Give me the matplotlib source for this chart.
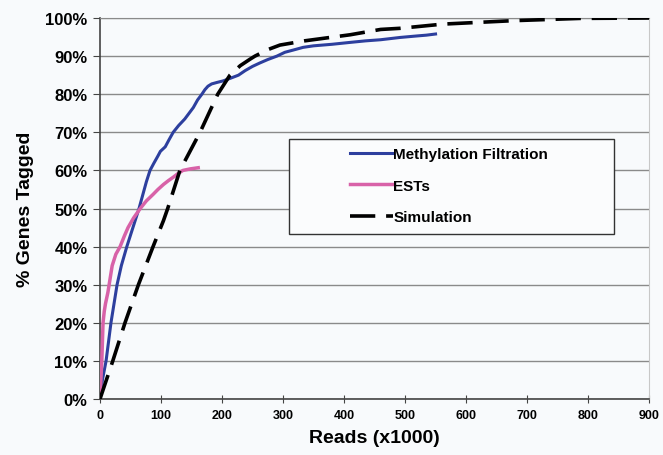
import matplotlib
matplotlib.use("Agg")
import matplotlib.pyplot as plt
from matplotlib.patches import Rectangle
from matplotlib.ticker import FuncFormatter

plt.rcParams['font.family'] = ['Liberation Sans', 'DejaVu Sans']

# Methylation Filtration
mf_x = [0, 2, 4, 7, 10, 14, 18, 23, 28, 35, 44, 49, 54, 59, 64, 70, 76, 82, 88, 95, 99,
        101, 107, 113, 120, 129, 139, 146, 153, 160, 167, 172, 177, 183, 192, 202,
        214, 227, 238, 250, 262, 275, 290, 303, 317, 333, 350, 380, 410, 435, 460,
        476, 492, 506, 520, 535, 550]
mf_y = [0, 2.5, 5, 7.5, 10, 15, 20, 25, 30, 35, 40, 42.5, 45, 47.5, 50, 53.5, 57, 60,
        61.8, 63.8, 65, 65.3, 66.2, 68, 70, 71.8, 73.5, 75, 76.5, 78.5, 80, 81.2,
        82.1, 82.7, 83.1, 83.5, 84.2, 85, 86.2, 87.3, 88.2, 89.1, 90, 91, 91.6,
        92.3, 92.7, 93.1, 93.6, 94.0, 94.3, 94.6, 94.9, 95.1, 95.3, 95.5, 95.8]

# ESTs
est_x = [0, 1.5, 3, 4, 5, 7, 9, 13, 15, 20, 26, 33, 40, 46, 55, 66, 76, 87, 95, 104,
         112, 120, 128, 136, 148, 161]
est_y = [0, 5, 10, 15, 20, 23, 25, 28, 30, 35, 38, 40, 42.8, 45, 47.5, 50, 52, 53.7,
         55, 56.3, 57.3, 58.2, 59.2, 60, 60.4, 60.7]

# Simulation
sim_x = [0, 21, 41, 63, 87, 104, 111, 131, 164, 193, 213, 230, 246, 254, 275, 295,
         335, 410, 460, 492, 562, 677, 787, 900]
sim_y = [0, 10, 20, 30, 40, 46.8, 50, 60, 70, 80, 85, 87.5, 89.2, 90, 91.7, 92.9,
         94.0, 95.6, 97, 97.3, 98.4, 99.3, 99.9, 100]

x_ticks = [0, 100, 200, 300, 400, 500, 600, 700, 800, 900]
y_ticks = [0, 10, 20, 30, 40, 50, 60, 70, 80, 90, 100]

bg = '#f8fafc'
fig = plt.figure(figsize=(6.63, 4.56), dpi=100, facecolor=bg)
ax = fig.add_axes([0.1508, 0.1228, 0.8282, 0.8355])
ax.set_facecolor(bg)

ax.set_xlim(0, 900)
ax.set_ylim(0, 100)
ax.set_xticks(x_ticks)
ax.set_yticks(y_ticks)
ax.yaxis.set_major_formatter(FuncFormatter(lambda v, p: f"{int(v)}%"))
ax.grid(axis='y', color='#8a8a8a', linewidth=1.0, zorder=0)
ax.set_axisbelow(True)

for s in ['left', 'bottom']:
    ax.spines[s].set_color('#444444')
    ax.spines[s].set_linewidth(1.2)
ax.spines['right'].set_color('#c8c8c8')
ax.spines['top'].set_color('#8a8a8a')

ax.tick_params(axis='y', direction='out', length=5, color='#444444',
               labelsize=12, pad=4)
ax.tick_params(axis='x', direction='inout', length=6, color='#444444',
               labelsize=9, pad=4)
for lab in ax.get_xticklabels() + ax.get_yticklabels():
    lab.set_fontweight('bold')

l1, = ax.plot(mf_x, mf_y, color='#2d3f9e', linewidth=2.2, label='Methylation Filtration', zorder=4)
l2, = ax.plot(est_x, est_y, color='#d862a8', linewidth=2.5, label='ESTs', zorder=4)
l3, = ax.plot(sim_x, sim_y, color='black', linewidth=2.6, dashes=(7, 3),
              label='Simulation', zorder=5)

ax.set_xlabel('Reads (x1000)', fontsize=14, fontweight='bold', labelpad=6)
ax.set_ylabel('% Genes Tagged', fontsize=14, fontweight='bold', labelpad=8)

# legend box
rect = Rectangle((0.344, 0.433), 0.592, 0.249, transform=ax.transAxes,
                 facecolor='#fbfcfd', edgecolor='#333333', linewidth=1.0, zorder=6)
ax.add_patch(rect)
leg = ax.legend(handles=[l1, l2, l3], loc='upper left', bbox_to_anchor=(0.455, 0.661),
                frameon=False, prop={'weight': 'bold', 'size': 11},
                handlelength=2.8, handletextpad=0.05, labelspacing=1.15,
                borderpad=0, borderaxespad=0)
leg.set_zorder(7)

fig.savefig('out.png', dpi=100, facecolor=bg)
